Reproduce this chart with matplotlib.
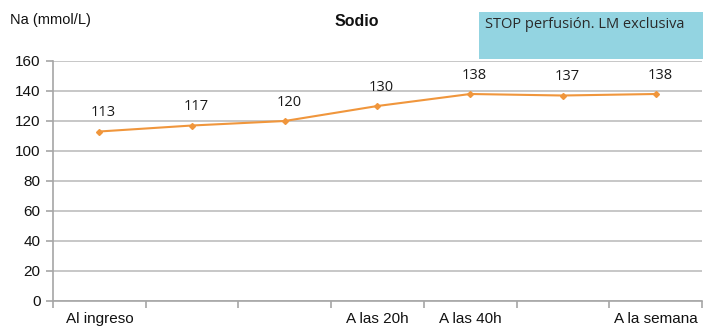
import matplotlib
matplotlib.use("Agg")
import matplotlib.pyplot as plt
from matplotlib.patches import Rectangle

categories = ["Al ingreso", "", "", "A las 20h", "A las 40h", "", "A la semana"]
sodium = [113, 117, 120, 130, 138, 137, 138]
y_ticks = [0, 20, 40, 60, 80, 100, 120, 140, 160]

W, H = 703, 329
fig = plt.figure(figsize=(W / 100, H / 100), dpi=100)
left, right, top, bottom = 53, 702, 61, 301
ax = fig.add_axes([left / W, 1 - bottom / H, (right - left) / W, (bottom - top) / H])

x = list(range(len(sodium)))
line_color = "#F0963C"
ax.plot(x, sodium, color=line_color, lw=1.5, marker="D", ms=3, mfc=line_color, mec=line_color, zorder=3)
for xi, v in zip(x, sodium):
    ax.annotate(str(v), (xi, v), xytext=(3, 8), textcoords="offset points",
                ha="center", va="bottom", fontsize=10.5, family="Open Sans", color="#1A1A1A")

ax.set_xlim(-0.5, len(sodium) - 0.5)
ax.set_ylim(0, 160)
ax.set_yticks(y_ticks)
ax.set_yticklabels([str(t) for t in y_ticks], family="Liberation Sans", fontsize=11, color="#111111")
ax.grid(axis="y", color="#BDBDBD", lw=1.2)
ax.set_axisbelow(True)

ax.set_xticks(x)
ax.set_xticklabels(categories, family="Liberation Sans", fontsize=11, color="#111111")
ax.tick_params(axis="x", length=0, pad=8)
ax.set_xticks([i - 0.5 for i in range(len(sodium) + 1)], minor=True)
ax.tick_params(axis="x", which="minor", length=5, color="#A6A6A6", width=1.2)
ax.tick_params(axis="y", length=5, color="#A6A6A6", width=1.2, pad=4)

for s in ["top", "right"]:
    ax.spines[s].set_visible(False)
for s in ["left", "bottom"]:
    ax.spines[s].set_color("#A6A6A6")
    ax.spines[s].set_linewidth(1.2)

fig.text(10 / W, 1 - 20 / H, "Na (mmol/L)", family="Liberation Sans", fontsize=10.5,
         ha="left", va="center", color="#111111")
fig.text(357 / W, 1 - 21 / H, "Sodio", family="Liberation Sans", fontsize=11.5,
         weight="bold", ha="center", va="center", color="#111111")

box = Rectangle((479 / W, 1 - 59 / H), (703 - 479) / W, 47 / H, transform=fig.transFigure,
                facecolor="#93D4E1", edgecolor="none")
fig.patches.append(box)
fig.text(485 / W, 1 - 25 / H, "STOP perfusión. LM exclusiva", family="Open Sans",
         fontsize=10.5, ha="left", va="center", color="#2A2A2A")

fig.savefig("out.png", dpi=100)
